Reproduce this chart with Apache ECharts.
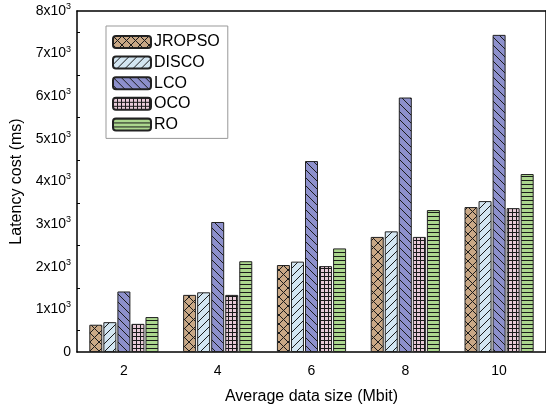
<!DOCTYPE html>
<html>
<head>
<meta charset="utf-8">
<script src="https://cdn.jsdelivr.net/npm/echarts@6/dist/echarts.min.js"></script>
<style>
  html, body { margin: 0; padding: 0; background: #fff; }
  #chart { width: 546px; height: 410px; }
</style>
</head>
<body>
<div id="chart"></div>
<script>
// 数据
const sizes = ['2', '4', '6', '8', '10']
const jropso = [640, 1340, 2040, 2700, 3400]
const disco = [700, 1400, 2120, 2830, 3540]
const lco = [1420, 3050, 4480, 5970, 7440]
const oco = [660, 1340, 2015, 2700, 3375]
const ro = [820, 2130, 2430, 3330, 4175]

const FONT = '"Liberation Sans", Arial, sans-serif'

// 填充图案
const makePattern = (bg, size, draw) => {
  const c = document.createElement('canvas')
  c.width = size
  c.height = size
  const ctx = c.getContext('2d')
  ctx.fillStyle = bg
  ctx.fillRect(0, 0, size, size)
  ctx.strokeStyle = '#1a1a1a'
  ctx.lineWidth = 1
  ctx.beginPath()
  draw(ctx, size)
  ctx.stroke()
  return { image: c, repeat: 'repeat' }
}

const slash = (ctx, s) => {
  ctx.moveTo(-1, s + 1); ctx.lineTo(s + 1, -1)
  ctx.moveTo(-1, 1); ctx.lineTo(1, -1)
  ctx.moveTo(s - 1, s + 1); ctx.lineTo(s + 1, s - 1)
}
const backslash = (ctx, s) => {
  ctx.moveTo(-1, -1); ctx.lineTo(s + 1, s + 1)
  ctx.moveTo(s - 1, -1); ctx.lineTo(s + 1, 1)
  ctx.moveTo(-1, s - 1); ctx.lineTo(1, s + 1)
}

const patJ = makePattern('#c9a886', 9, (ctx, s) => { slash(ctx, s); backslash(ctx, s) })
const patD = makePattern('#d3e6f2', 8, slash)
const patL = makePattern('#8d90cc', 8, backslash)
const patO = makePattern('#e8cbd8', 4, (ctx, s) => {
  ctx.moveTo(0, 0.5); ctx.lineTo(s, 0.5)
  ctx.moveTo(0.5, 0); ctx.lineTo(0.5, s)
})
const patR = makePattern('#acd78e', 4, (ctx, s) => {
  ctx.moveTo(0, 0.5); ctx.lineTo(s, 0.5)
})

const chart = echarts.init(document.getElementById('chart'))

const mkSeries = (name, data, pat) => ({
  name,
  type: 'bar',
  data,
  barWidth: 13,
  barGap: '8%',
  itemStyle: { color: pat, borderColor: '#222', borderWidth: 1 }
})

const tickLabel = (v) => (v === 0 ? '0' : '{a|' + v / 1000 + 'x10}{s|3}')

const option = {
  animation: false,
  textStyle: { fontFamily: FONT },
  grid: { left: 77, top: 11, width: 470, height: 343, containLabel: false },
  legend: {
    orient: 'vertical',
    left: 106,
    top: 26,
    itemWidth: 38,
    itemHeight: 12,
    itemGap: 4.6,
    padding: [8, 8, 6, 6],
    borderColor: '#999',
    borderWidth: 1,
    textStyle: { fontFamily: FONT, fontSize: 16, color: '#000', padding: [0, 0, 0, -2] },
    data: ['JROPSO', 'DISCO', 'LCO', 'OCO', 'RO']
  },
  xAxis: [
    {
      type: 'category',
      data: sizes,
      position: 'bottom',
      name: 'Average data size (Mbit)',
      nameLocation: 'middle',
      nameGap: 37,
      nameTextStyle: { fontFamily: FONT, fontSize: 16, color: '#000' },
      axisLine: { lineStyle: { color: '#000', width: 1.5 } },
      axisTick: { inside: true, alignWithLabel: true, length: 5, lineStyle: { color: '#000' } },
      axisLabel: { fontFamily: FONT, fontSize: 14, color: '#000', margin: 12 }
    },
    {
      type: 'category',
      data: sizes,
      position: 'bottom',
      axisLine: { show: false },
      axisTick: { inside: true, length: 3, lineStyle: { color: '#999' } },
      axisLabel: { show: false }
    },
    {
      type: 'category',
      data: sizes,
      position: 'top',
      axisLine: { lineStyle: { color: '#000', width: 1.5 } },
      axisTick: { inside: true, alignWithLabel: true, length: 4, lineStyle: { color: '#000' } },
      axisLabel: { show: false }
    }
  ],
  yAxis: [
    {
      type: 'value',
      min: 0,
      max: 8000,
      interval: 1000,
      name: 'Latency cost (ms)',
      nameLocation: 'middle',
      nameGap: 50,
      nameTextStyle: { fontFamily: FONT, fontSize: 16, color: '#000' },
      splitLine: { show: false },
      axisLine: { show: true, lineStyle: { color: '#000', width: 1.5 } },
      axisTick: { inside: true, length: 5, lineStyle: { color: '#000' } },
      minorTick: { show: true, splitNumber: 2, length: 3, lineStyle: { color: '#000' } },
      axisLabel: {
        fontFamily: FONT,
        fontSize: 14,
        color: '#000',
        margin: 6,
        formatter: tickLabel,
        rich: {
          a: { fontFamily: FONT, fontSize: 14, color: '#000' },
          s: { fontFamily: FONT, fontSize: 9, color: '#000', padding: [0, 0, 9, 0] }
        }
      }
    },
    {
      type: 'value',
      min: 0,
      max: 8000,
      interval: 1000,
      position: 'right',
      splitLine: { show: false },
      axisLine: { show: true, lineStyle: { color: '#000', width: 1.5 } },
      axisTick: { inside: true, length: 5, lineStyle: { color: '#000' } },
      axisLabel: { show: false }
    }
  ],
  series: [
    mkSeries('JROPSO', jropso, patJ),
    mkSeries('DISCO', disco, patD),
    mkSeries('LCO', lco, patL),
    mkSeries('OCO', oco, patO),
    mkSeries('RO', ro, patR)
  ]
}

chart.setOption(option)
</script>
</body>
</html>
